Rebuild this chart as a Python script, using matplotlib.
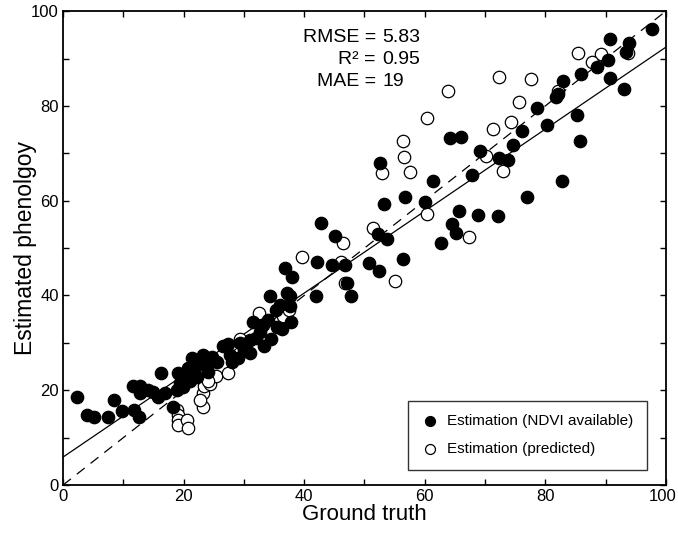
import numpy as np
import matplotlib
matplotlib.use("Agg")
from matplotlib import pyplot as plt
from matplotlib import transforms

plt.rcParams['font.family'] = ['Liberation Sans', 'DejaVu Sans']

# estimation where NDVI available (filled)
ndvi_x = [2.3, 4.0, 5.1, 7.5, 8.5, 9.8, 11.6, 12.8, 11.8, 12.6, 12.8, 14.1, 14.9, 15.8,
          16.3, 16.9, 18.2, 19.1, 18.9, 19.4, 20.6, 21.4, 20.7, 19.9, 22.2, 21.0, 23.2,
          24.7, 23.9, 24.0, 22.5, 21.8,
          26.5, 27.4, 27.7, 29.0, 29.4, 31.0, 31.0, 31.5, 33.3, 34.5, 32.7, 33.2, 34.3,
          34.0, 35.3, 35.5, 36.3, 36.8, 37.1, 37.6, 38.0, 37.6, 37.8, 42.1, 42.0, 44.6,
          46.8, 47.1, 47.8, 50.7, 52.4, 28.0, 30.0, 32.0, 25.5, 36.0,
          42.8, 45.1, 56.4, 53.2, 56.7, 52.2, 53.7, 52.6,
          78.6, 76.1, 64.2, 66.0, 74.6, 69.2, 72.3, 73.8, 67.8, 61.4, 76.9, 60.0, 65.7,
          68.8, 72.1, 64.5, 65.2, 62.7,
          97.7, 90.7, 93.9, 93.4, 90.4, 88.6, 85.9, 82.9, 90.7, 82.1, 81.8, 93.0, 85.2,
          80.3, 85.7, 82.8]
ndvi_y = [18.6, 14.8, 14.3, 14.3, 17.9, 15.6, 20.9, 20.9, 15.8, 14.3, 19.4, 20.0, 19.6, 18.6,
          23.6, 19.4, 16.5, 23.6, 20.0, 21.5, 22.2, 26.8, 24.7, 20.7, 22.8, 22.0, 27.4,
          27.0, 25.3, 23.8, 25.5, 24.0,
          29.3, 29.7, 27.4, 26.8, 30.0, 30.6, 27.8, 34.4, 29.3, 30.8, 32.3, 33.8, 39.9,
          34.8, 36.9, 33.3, 32.9, 45.8, 40.5, 39.9, 43.9, 37.8, 34.4, 47.0, 39.9, 46.4,
          46.4, 42.6, 39.9, 46.8, 45.1, 26.0, 28.5, 31.0, 26.0, 38.0,
          55.3, 52.5, 47.7, 59.3, 60.8, 53.0, 51.9, 67.9,
          79.5, 74.7, 73.2, 73.4, 71.7, 70.5, 69.0, 68.6, 65.4, 64.1, 60.8, 59.7, 57.8,
          57.0, 56.8, 55.1, 53.2, 51.1,
          96.2, 94.1, 93.2, 91.4, 89.7, 88.2, 86.7, 85.2, 85.9, 82.5, 81.9, 83.5, 78.1,
          75.9, 72.6, 64.1]

# predicted estimation (open)
pred_x = [18.9, 19.1, 19.1, 19.1, 20.6, 20.7, 23.2, 23.2, 23.4, 24.4, 25.4, 27.4, 29.4,
          32.5, 36.5, 37.5, 39.6, 46.1, 46.4, 46.8, 55.1, 51.4, 72.3, 77.6, 63.8, 75.6,
          60.4, 74.3, 71.3, 56.4, 70.1, 56.6, 73.0, 57.5, 60.4, 67.3, 52.9, 85.4, 89.2,
          87.7, 93.7, 82.1, 24.0, 22.8]
pred_y = [15.8, 14.8, 13.7, 12.7, 13.7, 12.0, 16.5, 19.4, 20.9, 21.3, 23.0, 23.6, 30.8,
          36.3, 35.7, 36.9, 48.1, 47.0, 51.0, 42.6, 43.0, 54.2, 86.1, 85.7, 83.1, 80.8,
          77.4, 76.6, 75.1, 72.6, 69.4, 69.2, 66.2, 66.0, 57.2, 52.3, 65.8, 91.1, 90.9,
          89.2, 91.1, 83.1, 22.0, 18.0]

fit_intercept = 5.9
fit_slope = 0.865
stats_names = ["RMSE", "R\u00b2", "MAE"]
stats_vals = ["5.83", "0.95", "19"]

fig = plt.figure(figsize=(6.78, 5.33), dpi=100)
ax = fig.add_axes([0.093, 0.090, 0.889, 0.889])

xx = np.array([0, 100])
ax.plot(xx, xx, color='black', lw=0.9, dashes=(8, 6))
ax.plot(xx, fit_intercept + fit_slope * xx, color='black', lw=0.9)

ax.scatter(pred_x, pred_y, s=80, facecolors='white', edgecolors='black', linewidths=0.9,
           label='Estimation (predicted)', zorder=3)
ax.scatter(ndvi_x, ndvi_y, s=80, facecolors='black', edgecolors='black', linewidths=0.9,
           label='Estimation (NDVI available)', zorder=4)

ax.set_xlim(0, 100)
ax.set_ylim(0, 100)
ax.set_xticks(range(0, 101, 20))
ax.set_yticks(range(0, 101, 20))
ax.set_xticks(range(10, 100, 20), minor=True)
ax.set_yticks(range(10, 100, 20), minor=True)
ax.tick_params(which='both', direction='in', top=True, right=True, length=4, width=1,
               labelsize=12, pad=3)
for sp in ax.spines.values():
    sp.set_linewidth(1.3)

# keep the "100" label inside the canvas
last = ax.get_xticklabels()[-1]
last.set_transform(last.get_transform() + transforms.ScaledTranslation(-3 / 100, 0, fig.dpi_scale_trans))

ax.set_xlabel('Ground truth', fontsize=16, labelpad=0)
ax.set_ylabel('Estimated phenolgoy', fontsize=16.5, labelpad=-4)

for i, (n, v) in enumerate(zip(stats_names, stats_vals)):
    yy = 0.945 - i * 0.047
    ax.text(0.519, yy, n + " =", transform=ax.transAxes, ha='right', va='center', fontsize=14)
    ax.text(0.530, yy, v, transform=ax.transAxes, ha='left', va='center', fontsize=14)

h, l = ax.get_legend_handles_labels()
leg = ax.legend(h[::-1], l[::-1], loc='lower right', bbox_to_anchor=(0.968, 0.032),
                borderaxespad=0, fontsize=11, frameon=True, fancybox=False,
                edgecolor='black', borderpad=0.9, labelspacing=0.9, handlelength=1.0,
                handletextpad=0.6, scatterpoints=1, markerscale=0.8)
leg.get_frame().set_linewidth(1.0)

fig.savefig('out.png', dpi=100)
